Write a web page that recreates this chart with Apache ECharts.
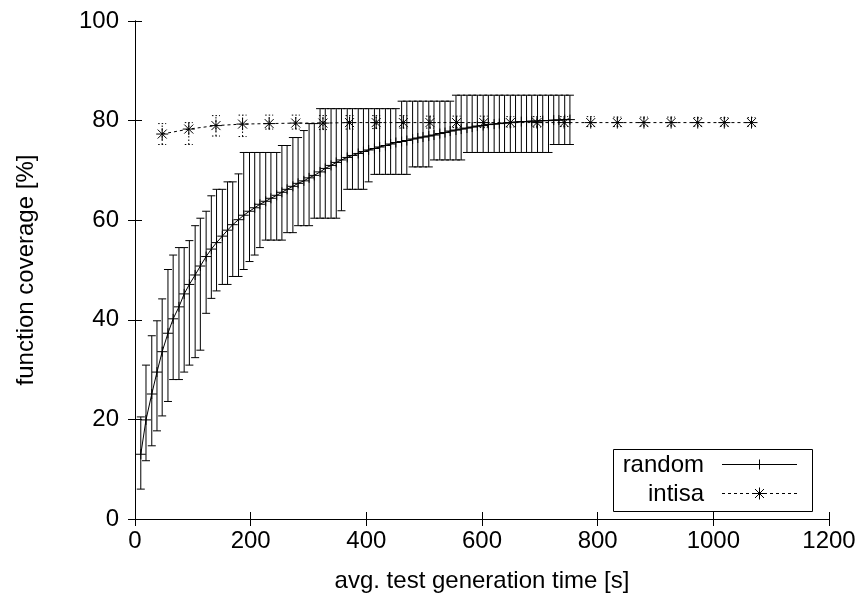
<!DOCTYPE html>
<html>
<head>
<meta charset="utf-8">
<script src="https://cdn.jsdelivr.net/npm/echarts@6/dist/echarts.min.js"></script>
<style>html,body{margin:0;padding:0;background:#fff;}#c{width:867px;height:607px;}</style>
</head>
<body>
<div id="c"></div>
<script>
// ---- data ----
const randomX = [10,19,29,38,47,57,66,76,85,94,104,113,123,132,141,151,160,169,179,188,198,207,216,226,235,245,254,263,273,282,292,301,310,320,329,339,348,357,367,376,386,395,404,414,423,433,442,451,461,470,480,489,498,508,517,527,536,545,555,564,574,583,592,602,611,621,630,639,649,658,668,677,686,696,705,715,724,733,743,752];
const randomMean = [13.0,19.9,25.1,29.5,33.6,37.3,40.2,42.6,45.2,47.1,
  49.0,50.8,52.7,54.2,55.5,56.8,58.0,59.1,60.1,61.0,
  61.8,62.5,63.2,63.8,64.4,65.0,65.6,66.2,66.8,67.4,
  67.9,68.5,69.0,69.7,70.4,71.0,71.6,72.1,72.6,73.0,
  73.4,73.8,74.1,74.4,74.7,75.0,75.3,75.6,75.8,76.0,
  76.3,76.5,76.7,76.9,77.1,77.4,77.6,77.9,78.1,78.3,
  78.5,78.7,78.9,79.0,79.2,79.3,79.4,79.5,79.6,79.7,
  79.8,79.8,79.9,79.9,80.0,80.0,80.1,80.1,80.2,80.2];
const randomLow = [6.0,11.7,14.7,17.7,20.7,23.6,28.0,28.0,29.5,30.9,
  32.4,33.9,41.3,44.3,45.8,47.1,47.1,48.7,48.7,50.1,
  51.7,53.0,54.5,56.0,56.0,56.0,56.0,57.5,57.5,58.9,
  58.9,58.9,60.4,60.4,60.4,60.4,60.4,61.9,66.2,66.2,
  66.2,66.2,67.7,69.2,69.2,69.2,69.2,69.2,69.2,69.2,
  70.7,70.7,70.7,70.7,72.1,72.1,72.1,72.1,72.1,72.1,
  73.6,73.6,73.6,73.6,73.6,73.6,73.6,73.6,73.6,73.6,
  73.6,73.6,73.6,73.6,73.6,73.6,75.2,75.2,75.2,75.2];
const randomHigh = [20.5,30.9,36.8,39.8,44.2,50.1,53.0,54.5,54.5,55.9,
  58.9,60.4,61.8,64.9,66.2,66.2,67.7,67.7,69.3,73.6,
  73.6,73.6,73.6,73.6,73.6,73.6,75.0,75.0,76.6,76.6,
  78.0,79.4,79.4,82.4,82.4,82.4,82.4,82.4,82.4,82.4,
  82.4,82.4,82.4,82.4,82.4,82.4,82.4,82.4,83.9,83.9,
  83.9,83.9,83.9,83.9,83.9,83.9,83.9,83.9,85.1,85.1,
  85.1,85.1,85.1,85.1,85.1,85.1,85.1,85.1,85.1,85.1,
  85.1,85.1,85.1,85.1,85.1,85.1,85.1,85.1,85.1,85.1];

const intisaX = [47,93,140,186,232,278,325,371,417,464,510,556,603,649,695,742,788,834,880,927,973,1019,1066];
const intisaMean = [77.3,78.3,79.0,79.3,79.4,79.5,79.5,79.6,79.6,79.6,79.6,79.6,79.6,79.6,79.6,79.6,79.6,79.6,79.6,79.6,79.6,79.6,79.6];
const intisaLow = [75.2,75.2,76.9,76.8,78.3,78.3,78.2,78.3,78.4,78.5,78.5,78.6,78.6,78.7,78.7,78.8,78.8,78.8,78.9,78.9,78.9,78.9,78.9];
const intisaHigh = [79.4,79.6,81.0,81.1,81.1,81.1,81.0,81.0,81.0,81.0,80.9,80.9,80.9,80.8,80.8,80.8,80.8,80.7,80.7,80.7,80.6,80.6,80.6];

const seriesNames = ['random', 'intisa'];
const xAxisTitle = 'avg. test generation time [s]';
const yAxisTitle = 'function coverage [%]';

// ---- chart ----
const FONT = 'Liberation Sans, Arial, Helvetica, sans-serif';
const FS = 24;
const chart = echarts.init(document.getElementById('c'), null, {renderer: 'canvas'});

function plusShape(cx, cy, a, style) {
  return [
    {type: 'line', shape: {x1: cx - a, y1: cy, x2: cx + a, y2: cy}, style},
    {type: 'line', shape: {x1: cx, y1: cy - a, x2: cx, y2: cy + a}, style}
  ];
}
function starShape(cx, cy, a, d, style) {
  return plusShape(cx, cy, a, style).concat([
    {type: 'line', shape: {x1: cx - d, y1: cy - d, x2: cx + d, y2: cy + d}, style},
    {type: 'line', shape: {x1: cx - d, y1: cy + d, x2: cx + d, y2: cy - d}, style}
  ]);
}

function renderRandom(params, api) {
  const x = api.value(0), lo = api.value(1), hi = api.value(2), m = api.value(3);
  const pl = api.coord([x, lo]), ph = api.coord([x, hi]), pm = api.coord([x, m]);
  const st = {stroke: '#000', lineWidth: 1, fill: null};
  const cap = 4;
  const ch = [
    {type: 'line', shape: {x1: pl[0], y1: pl[1], x2: ph[0], y2: ph[1]}, style: st},
    {type: 'line', shape: {x1: pl[0] - cap, y1: pl[1], x2: pl[0] + cap, y2: pl[1]}, style: st},
    {type: 'line', shape: {x1: ph[0] - cap, y1: ph[1], x2: ph[0] + cap, y2: ph[1]}, style: st}
  ].concat(plusShape(pm[0], pm[1], 5, st));
  return {type: 'group', children: ch};
}

function renderIntisa(params, api) {
  const x = api.value(0), lo = api.value(1), hi = api.value(2), m = api.value(3);
  const pl = api.coord([x, lo]), ph = api.coord([x, hi]), pm = api.coord([x, m]);
  const dot = {stroke: '#000', lineWidth: 1, lineDash: [1.5, 2], fill: null};
  const st = {stroke: '#000', lineWidth: 1, fill: null};
  const cap = 4;
  const ch = [
    {type: 'line', shape: {x1: pl[0], y1: pl[1], x2: ph[0], y2: ph[1]}, style: dot},
    {type: 'line', shape: {x1: pl[0] - cap, y1: pl[1], x2: pl[0] + cap, y2: pl[1]}, style: dot},
    {type: 'line', shape: {x1: ph[0] - cap, y1: ph[1], x2: ph[0] + cap, y2: ph[1]}, style: dot}
  ].concat(starShape(pm[0], pm[1], 6, 4.5, st));
  return {type: 'group', children: ch};
}

const axisCommon = {
  axisLine: {show: true, lineStyle: {color: '#000', width: 1}},
  axisTick: {show: true, inside: true, length: 7, lineStyle: {color: '#000', width: 1}},
  splitLine: {show: false}
};
const plain = v => String(v);

const option = {
  animation: false,
  backgroundColor: '#fff',
  grid: {left: 135, right: 38, top: 21, bottom: 88, outerBoundsMode: 'none', containLabel: false},
  xAxis: [
    Object.assign({
      type: 'value', min: 0, max: 1200, interval: 200, position: 'bottom',
      name: xAxisTitle, nameLocation: 'middle', nameGap: 50,
      nameTextStyle: {fontFamily: FONT, fontSize: FS, color: '#000'},
      axisLabel: {fontFamily: FONT, fontSize: FS, color: '#000', margin: 10, formatter: plain}
    }, axisCommon),
    Object.assign({
      type: 'value', min: 0, max: 1200, interval: 200, position: 'top',
      axisLabel: {show: false}
    }, axisCommon)
  ],
  yAxis: [
    Object.assign({
      type: 'value', min: 0, max: 100, interval: 20, position: 'left',
      name: yAxisTitle, nameLocation: 'middle', nameGap: 97, nameRotate: 90,
      nameTextStyle: {fontFamily: FONT, fontSize: FS, color: '#000'},
      axisLabel: {fontFamily: FONT, fontSize: FS, color: '#000', margin: 16, formatter: plain}
    }, axisCommon),
    Object.assign({
      type: 'value', min: 0, max: 100, interval: 20, position: 'right',
      axisLabel: {show: false}
    }, axisCommon)
  ],
  series: [
    {
      name: seriesNames[0], type: 'line', xAxisIndex: 0, yAxisIndex: 0,
      data: randomX.map((x, i) => [x, randomMean[i]]),
      showSymbol: false, symbol: 'none',
      lineStyle: {color: '#000', width: 1}, silent: true
    },
    {
      name: seriesNames[0] + ' errors', type: 'custom', xAxisIndex: 0, yAxisIndex: 0,
      data: randomX.map((x, i) => [x, randomLow[i], randomHigh[i], randomMean[i]]),
      encode: {x: 0, y: [1, 2, 3]},
      renderItem: renderRandom, silent: true
    },
    {
      name: seriesNames[1], type: 'line', xAxisIndex: 0, yAxisIndex: 0,
      data: intisaX.map((x, i) => [x, intisaMean[i]]),
      showSymbol: false, symbol: 'none',
      lineStyle: {color: '#000', width: 1, type: [3, 3]}, silent: true
    },
    {
      name: seriesNames[1] + ' errors', type: 'custom', xAxisIndex: 0, yAxisIndex: 0,
      data: intisaX.map((x, i) => [x, intisaLow[i], intisaHigh[i], intisaMean[i]]),
      encode: {x: 0, y: [1, 2, 3]},
      renderItem: renderIntisa, silent: true
    }
  ],
  graphic: (function () {
    const st = {stroke: '#000', lineWidth: 1, fill: null};
    const els = [
      {type: 'rect', shape: {x: 613.5, y: 449.5, width: 199, height: 62}, style: {fill: '#fff', stroke: '#000', lineWidth: 1}, z: 10},
      {type: 'text', x: 704, y: 465, style: {text: seriesNames[0], fontFamily: FONT, fontSize: FS, fill: '#000', align: 'right', verticalAlign: 'middle'}, z: 11},
      {type: 'text', x: 704, y: 494, style: {text: seriesNames[1], fontFamily: FONT, fontSize: FS, fill: '#000', align: 'right', verticalAlign: 'middle'}, z: 11},
      {type: 'line', shape: {x1: 722, y1: 464.5, x2: 797, y2: 464.5}, style: st, z: 11},
      {type: 'line', shape: {x1: 722, y1: 493.5, x2: 797, y2: 493.5}, style: {stroke: '#000', lineWidth: 1, lineDash: [3, 3]}, z: 11}
    ];
    plusShape(759.5, 464.5, 5, st).forEach(e => { e.z = 11; els.push(e); });
    starShape(759.5, 493.5, 6, 4.5, st).forEach(e => { e.z = 11; els.push(e); });
    return els;
  })()
};
chart.setOption(option);
</script>
</body>
</html>
